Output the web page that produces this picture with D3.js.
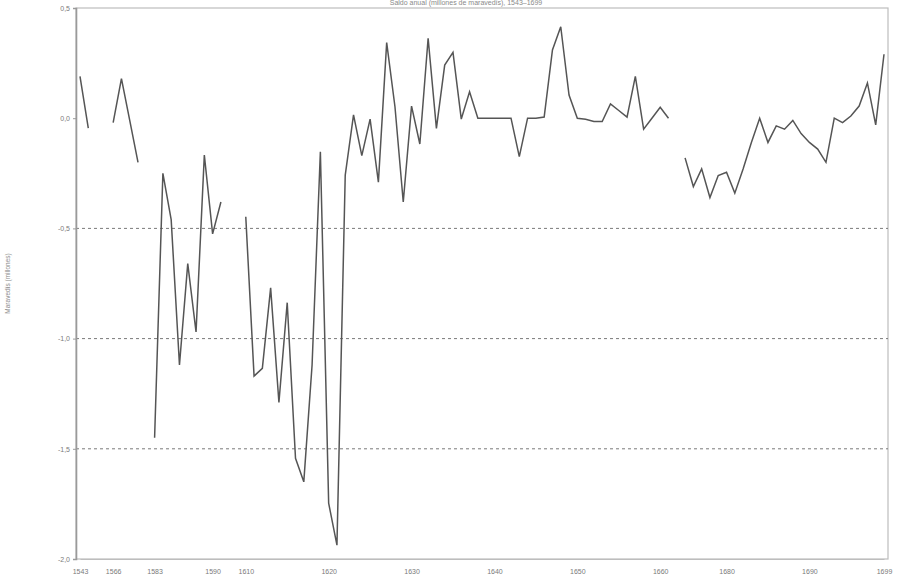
<!DOCTYPE html>
<html>
<head>
<meta charset="utf-8">
<script src="https://cdn.jsdelivr.net/npm/d3@7"></script>
<style>
  html, body { margin: 0; padding: 0; background: #fff; }
  svg { display: block; font-family: "Liberation Sans", Arial, sans-serif; }
</style>
</head>
<body>
<svg id="chart" width="906" height="581"></svg>
<script>
// Years on the horizontal axis (one slot per recorded entry; null = no data)
const years = [
  1543, 1544, 1552, 1560, 1566, 1567, 1568, 1569, 1577, 1583,
  1584, 1585, 1586, 1587, 1588, 1589, 1590, 1591, 1598, 1604,
  1610, 1611, 1612, 1613, 1614, 1615, 1616, 1617, 1618, 1619,
  1620, 1621, 1622, 1623, 1624, 1625, 1626, 1627, 1628, 1629,
  1630, 1631, 1632, 1633, 1634, 1635, 1636, 1637, 1638, 1639,
  1640, 1641, 1642, 1643, 1644, 1645, 1646, 1647, 1648, 1649,
  1650, 1651, 1652, 1653, 1654, 1655, 1656, 1657, 1658, 1659,
  1660, 1661, 1667, 1675, 1676, 1677, 1678, 1679, 1680, 1681,
  1682, 1683, 1684, 1685, 1686, 1687, 1688, 1689, 1690, 1691,
  1692, 1693, 1694, 1695, 1696, 1697, 1698, 1699
];

// Balance in millions of maravedís
const balance = [
  0.19, -0.045, null, null, -0.02, 0.18, -0.01, -0.20, null, -1.45,
  -0.25, -0.46, -1.12, -0.66, -0.97, -0.167, -0.525, -0.38, null, null,
  -0.447, -1.17, -1.135, -0.77, -1.29, -0.837, -1.543, -1.65, -1.12, -0.152,
  -1.747, -1.937, -0.258, 0.015, -0.17, -0.004, -0.29, 0.343, 0.052, -0.38,
  0.055, -0.117, 0.363, -0.046, 0.241, 0.299, -0.004, 0.12, 0.0, 0.0,
  0.0, 0.0, 0.0, -0.174, 0.0, 0.0, 0.005, 0.31, 0.415, 0.105,
  0.0, -0.005, -0.015, -0.015, 0.065, 0.035, 0.005, 0.19, -0.05, 0.0,
  0.05, 0.0, null, -0.18, -0.31, -0.23, -0.36, -0.26, -0.245, -0.34,
  -0.23, -0.11, 0.0, -0.11, -0.035, -0.05, -0.01, -0.07, -0.11, -0.14,
  -0.20, 0.0, -0.02, 0.01, 0.055, 0.16, -0.03, 0.29
];

// Years that carry a label on the axis
const labelledYears = [1543, 1566, 1583, 1590, 1610, 1620, 1630, 1640, 1650, 1660, 1680, 1690, 1699];

// Value ticks and the dotted reference levels
const yTicks = [0.5, 0.0, -0.5, -1.0, -1.5, -2.0];
const refLevels = [-0.5, -1.0, -1.5];

const titleText = "Saldo anual (millones de maravedís), 1543–1699";
const yTitle = "Maravedís (millones)";

const svg = d3.select("#chart");
const frame = { left: 76, right: 888, top: 8, bottom: 559 };

const x = d3.scalePoint()
  .domain(d3.range(years.length))
  .range([80, 884]);

const y = d3.scaleLinear()
  .domain([-2.0, 0.5])
  .range([frame.bottom, frame.top]);

const fmt = v => d3.format(".1f")(v).replace(".", ",").replace("−", "-");

// Plot frame
svg.append("rect")
  .attr("x", frame.left).attr("y", frame.top)
  .attr("width", frame.right - frame.left)
  .attr("height", frame.bottom - frame.top)
  .attr("fill", "none")
  .attr("stroke", "#bdbdbd")
  .attr("stroke-width", 1.2);

// Dotted reference lines
svg.append("g").selectAll("line")
  .data(refLevels)
  .join("line")
  .attr("x1", frame.left).attr("x2", frame.right)
  .attr("y1", d => y(d)).attr("y2", d => y(d))
  .attr("stroke", "#7a7a7a")
  .attr("stroke-width", 1)
  .attr("stroke-dasharray", "3,3");

// Value axis
const yAxis = d3.axisLeft(y)
  .tickValues(yTicks)
  .tickSize(3)
  .tickPadding(3)
  .tickFormat(fmt);

const gy = svg.append("g")
  .attr("transform", `translate(${frame.left},0)`)
  .call(yAxis);
gy.select(".domain").attr("stroke", "#9a9a9a").attr("stroke-width", 1.6);
gy.selectAll(".tick line").attr("stroke", "#9a9a9a");
gy.selectAll(".tick text").attr("fill", "#7a7a7a").attr("font-size", 7);

// Year axis
const xAxis = d3.axisBottom(x)
  .tickValues(d3.range(years.length).filter(i => labelledYears.includes(years[i])))
  .tickSize(0)
  .tickPadding(10)
  .tickFormat(i => years[i]);

const gx = svg.append("g")
  .attr("transform", `translate(0,${frame.bottom})`)
  .call(xAxis);
gx.select(".domain").attr("stroke", "#bdbdbd").attr("stroke-width", 1.2);
gx.selectAll(".tick text").attr("fill", "#7a7a7a").attr("font-size", 7);

// Balance series (gaps where no data)
const line = d3.line()
  .defined(d => d.v !== null)
  .x(d => x(d.i))
  .y(d => y(d.v));

svg.append("path")
  .datum(balance.map((v, i) => ({ i, v })))
  .attr("d", line)
  .attr("fill", "none")
  .attr("stroke", "#555")
  .attr("stroke-width", 1.5)
  .attr("stroke-linejoin", "miter");

// Axis title
svg.append("text")
  .attr("transform", `translate(10,${(frame.top + frame.bottom) / 2}) rotate(-90)`)
  .attr("text-anchor", "middle")
  .attr("font-size", 6.5)
  .attr("fill", "#8a8a8a")
  .text(yTitle);

// Chart title
svg.append("text")
  .attr("x", 466)
  .attr("y", 5)
  .attr("text-anchor", "middle")
  .attr("font-size", 7)
  .attr("fill", "#8a8a8a")
  .text(titleText);
</script>
</body>
</html>
